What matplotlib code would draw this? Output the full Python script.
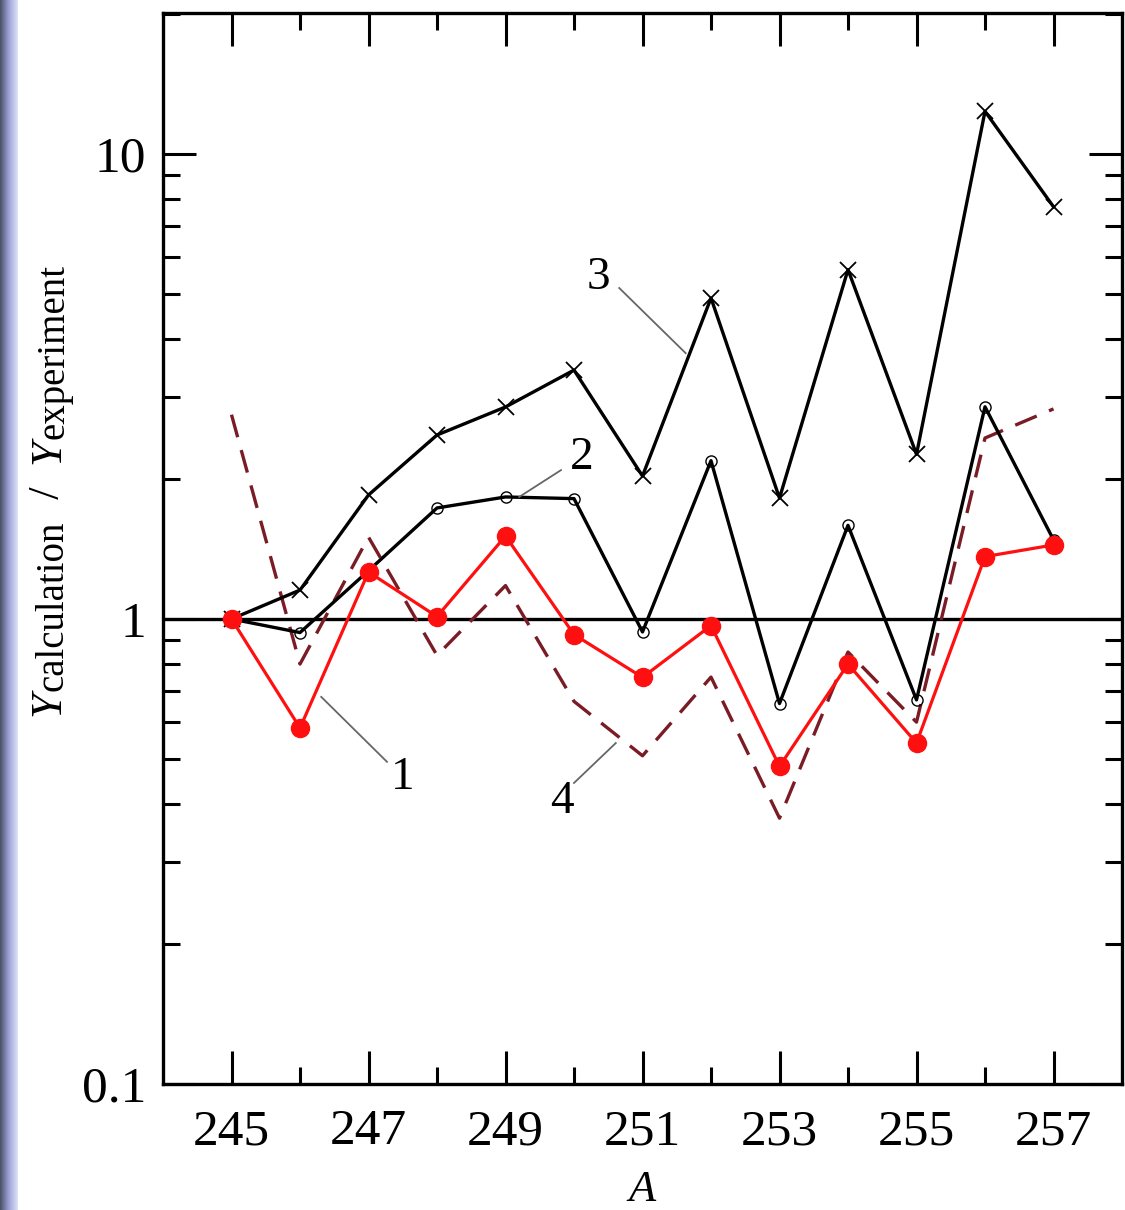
import numpy as np
import matplotlib
matplotlib.use("Agg")
import matplotlib.pyplot as plt
from matplotlib.ticker import LogLocator, FixedLocator, NullFormatter, FixedFormatter
from matplotlib.transforms import IdentityTransform

# ---- data ----
A = [245, 246, 247, 248, 249, 250, 251, 252, 253, 254, 255, 256, 257]
curve1 = [1.0, 0.583, 1.262, 1.012, 1.508, 0.926, 0.749, 0.968, 0.482, 0.800, 0.541, 1.362, 1.443]
curve2 = [1.0, 0.935, 1.27, 1.733, 1.83, 1.815, 0.938, 2.19, 0.658, 1.59, 0.67, 2.86, 1.48]
curve3 = [1.0, 1.154, 1.848, 2.487, 2.857, 3.43, 2.03, 4.90, 1.82, 5.64, 2.26, 12.35, 7.7]
curve4 = [2.75, 0.80, 1.50, 0.835, 1.18, 0.665, 0.508, 0.75, 0.373, 0.849, 0.600, 2.45, 2.83]
xmajor = [245, 247, 249, 251, 253, 255, 257]
xminor = [246, 248, 250, 252, 254, 256]
ymajor = [0.1, 1, 10]
ymajor_labels = ["0.1", "1", "10"]

plt.rcParams['font.family'] = ['Liberation Serif', 'DejaVu Serif']

W, H = 1125, 1210
fig = plt.figure(figsize=(W / 100, H / 100), dpi=100)

# left decorative strip
sax = fig.add_axes([0, 0, 18 / W, 1])
grad = np.linspace(0, 1, 18)
c0 = np.array([0.30, 0.33, 0.42])
c1 = np.array([0.62, 0.64, 0.85])
c2 = np.array([0.85, 0.88, 0.98])
cols = np.array([c0 + (c1 - c0) * min(g * 2, 1) if g < 0.5 else c1 + (c2 - c1) * (g - 0.5) * 2 for g in grad])
img = np.tile(cols[None, :, :], (50, 1, 1))
sax.imshow(img, aspect='auto', extent=[0, 1, 0, 1])
sax.axis('off')

ax = fig.add_axes([163 / W, 1 - 1084 / H, (1122 - 163) / W, (1084 - 13) / H])
ax.set_yscale('log')
ax.set_xlim(244, 258)
ax.set_ylim(0.1, 20.1)

ax.axhline(1.0, color='black', lw=2.4, zorder=1)

dash_col = '#7a1c26'
ax.plot(A, curve4, color=dash_col, lw=2.4, dashes=(7, 4), zorder=2)
ax.plot(A, curve3, color='black', lw=2.4, marker='x', ms=11, mew=1.3, zorder=3)
ax.plot(A, curve2, color='black', lw=2.4, marker='o', ms=8, mfc='none', mec='black', mew=1.0, zorder=3)
ax.plot(A, curve1, color='#ff1010', lw=2.3, marker='o', ms=13, mfc='#ff1010', mec='#ff1010', zorder=4)

# curve labels with leader lines
lead = dict(color='#666666', lw=1.3, zorder=5)
ax.plot([250.66, 251.63], [5.15, 3.73], **lead)
ax.text(250.36, 5.41, "3", fontsize=34, ha='center', va='center')
ax.plot([246.31, 247.27], [0.68, 0.493], **lead)
ax.text(247.5, 0.455, "1", fontsize=34, ha='center', va='center')
ax.plot([249.20, 249.81], [1.83, 2.09], **lead)
ax.text(250.12, 2.22, "2", fontsize=34, ha='center', va='center')
ax.plot([250.0, 250.61], [0.444, 0.541], **lead)
ax.text(249.83, 0.405, "4", fontsize=34, ha='center', va='center')

# ticks
ax.xaxis.set_major_locator(FixedLocator(xmajor))
ax.xaxis.set_minor_locator(FixedLocator(xminor))
ax.set_xticklabels([str(v) for v in xmajor])
ax.yaxis.set_major_locator(FixedLocator(ymajor))
ax.yaxis.set_major_formatter(FixedFormatter(ymajor_labels))
ax.yaxis.set_minor_locator(LogLocator(base=10, subs=np.arange(2, 10)))
ax.yaxis.set_minor_formatter(NullFormatter())
ax.tick_params(which='both', direction='in', top=True, right=True, width=2.2, labelsize=37)
ax.tick_params(which='major', length=24)
ax.tick_params(which='minor', length=12)
ax.tick_params(axis='x', which='major', pad=18)
ax.tick_params(axis='y', which='major', pad=12)
for s in ax.spines.values():
    s.set_linewidth(2.4)

fig.text(642 / W, 1 - 1190 / H, "A", fontsize=32, style='italic', ha='center', va='center')

# y label assembled from pieces (rotated, reading bottom to top)
renderer = fig.canvas.get_renderer()
pieces = [("Y", 32, 'italic', 0), ("calculation", 28, 'normal', 4), ("  /  ", 32, 'normal', 0),
          ("Y", 32, 'italic', 0), ("experiment", 28, 'normal', 4)]
base_x = 59
ypos = H - 716
for s, fs, st, drop in pieces:
    t = fig.text(base_x + drop, ypos, s, fontsize=fs, style=st, rotation=90,
                 rotation_mode='anchor', ha='left', va='baseline', transform=IdentityTransform())
    bb = t.get_window_extent(renderer)
    ypos += bb.height

fig.savefig("out.png", dpi=100)
